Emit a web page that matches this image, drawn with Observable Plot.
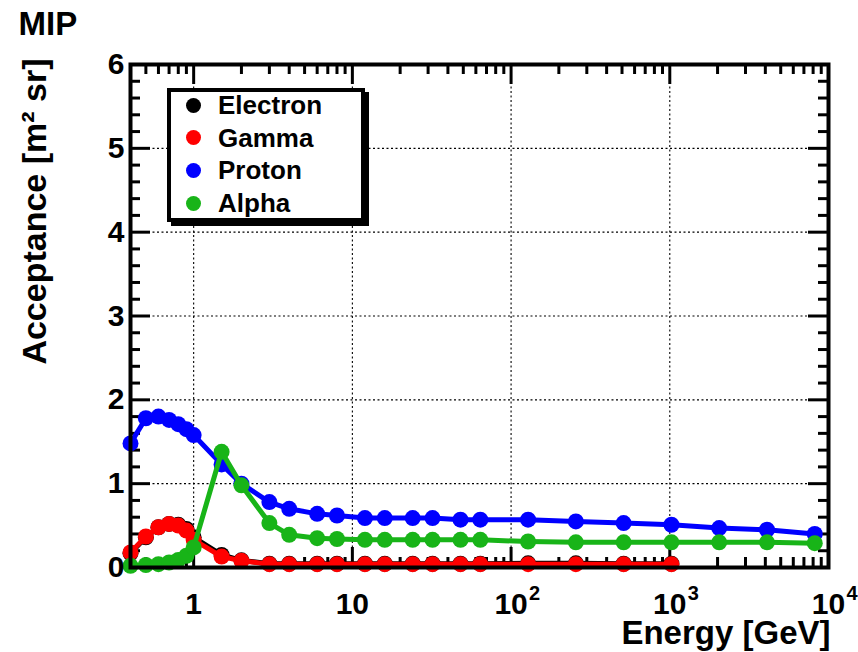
<!DOCTYPE html>
<html>
<head>
<meta charset="utf-8">
<script src="https://cdn.jsdelivr.net/npm/d3@7"></script>
<script src="https://cdn.jsdelivr.net/npm/@observablehq/plot@0.6"></script>
<style>
  html, body { margin: 0; padding: 0; background: #fff; }
  #chart { position: relative; width: 858px; height: 652px; font-family: "Liberation Sans", Arial, sans-serif; font-weight: bold; }
  #legend { position: absolute; left: 167px; top: 88px; width: 190px; height: 126px; border: 4px solid #000; background: #fff; box-shadow: 4px 4px 0 #000; }
  #legend .row { position: absolute; left: 0; width: 100%; height: 30px; font-size: 26px; line-height: 30px; }
  #legend .mk { position: absolute; left: 15px; top: 7.5px; width: 15px; height: 15px; border-radius: 50%; }
  #legend .lb { position: absolute; left: 47px; top: 0; white-space: nowrap; }
</style>
</head>
<body>
<div id="chart"></div>
<script>
// Energy grid [GeV] for the proton and alpha curves
const energyFull = [0.4, 0.5, 0.6, 0.7, 0.8, 0.9, 1.0, 1.5, 2, 3, 4, 6, 8, 12, 16, 24, 32, 48, 64, 128, 256, 512, 1024, 2048, 4096, 8192];
// Energy grid [GeV] for the electron and gamma curves (stops at 1 TeV)
const energyShort = [0.4, 0.5, 0.6, 0.7, 0.8, 0.9, 1.0, 1.5, 2, 3, 4, 6, 8, 12, 16, 24, 32, 48, 64, 128, 256, 512, 1024];

// Acceptance [m^2 sr]
const electron = [0.17, 0.36, 0.48, 0.52, 0.51, 0.46, 0.36, 0.15, 0.085, 0.045, 0.045, 0.045, 0.045, 0.045, 0.045, 0.045, 0.045, 0.045, 0.045, 0.05, 0.05, 0.045, 0.045];
const gamma    = [0.18, 0.37, 0.48, 0.52, 0.50, 0.44, 0.33, 0.13, 0.08, 0.04, 0.04, 0.04, 0.04, 0.04, 0.04, 0.04, 0.04, 0.04, 0.04, 0.04, 0.04, 0.04, 0.04];
const proton   = [1.48, 1.78, 1.80, 1.76, 1.71, 1.65, 1.58, 1.23, 1.00, 0.78, 0.70, 0.64, 0.62, 0.59, 0.59, 0.59, 0.59, 0.57, 0.57, 0.57, 0.55, 0.53, 0.51, 0.47, 0.45, 0.40];
const alpha    = [0.02, 0.03, 0.04, 0.06, 0.09, 0.14, 0.24, 1.38, 0.98, 0.53, 0.39, 0.35, 0.34, 0.33, 0.33, 0.33, 0.33, 0.33, 0.33, 0.31, 0.30, 0.30, 0.30, 0.30, 0.30, 0.29];

const seriesNames  = ["Electron", "Gamma", "Proton", "Alpha"];
const seriesColors = ["#000000", "#ff0000", "#0000ff", "#18b418"];

// Axis tick labels
const xTickValues = [1, 10, 100, 1000, 10000];
const xTickBase   = ["1", "10", "10", "10", "10"];
const xTickExp    = ["", "", "2", "3", "4"];
const yTickValues = [0, 1, 2, 3, 4, 5, 6];
const yTickLabels = ["0", "1", "2", "3", "4", "5", "6"];

const W = 858, H = 652;
const mL = 130, mR = 30, mT = 64, mB = 85;
const frameW = W - mL - mR, frameH = H - mT - mB;
const xDomain = [0.4, 1e4], yDomain = [0, 6];

// minor tick positions: log decades on x, steps of 0.2 on y
const xMinor = [];
for (let k = -1; k <= 3; k++) for (let m = 2; m <= 9; m++) {
  const v = m * Math.pow(10, k);
  if (v >= xDomain[0] && v <= xDomain[1]) xMinor.push(v);
}
const yMinor = d3.range(0, 6.0001, 0.2).filter(v => Math.abs(v - Math.round(v)) > 1e-6);
const xGrid = [1, 10, 100, 1000];
const yGrid = [1, 2, 3, 4, 5];

const seriesData = [
  energyShort.map((e, i) => ({e, v: electron[i]})),
  energyShort.map((e, i) => ({e, v: gamma[i]})),
  energyFull.map((e, i) => ({e, v: proton[i]})),
  energyFull.map((e, i) => ({e, v: alpha[i]}))
];

const majorLen = 20, minorLen = 10, tickW = 3;
const grid = {stroke: "#000", strokeWidth: 1.1, strokeDasharray: "2,2.5"};
const txt = {fontWeight: "bold", fill: "#000", lineAnchor: "middle"};

const seriesMarks = seriesData.flatMap((rows, i) => [
  Plot.line(rows, {x: "e", y: "v", stroke: seriesColors[i], strokeWidth: 5}),
  Plot.dot(rows, {x: "e", y: "v", r: 8, fill: seriesColors[i], stroke: "none"})
]);

const xLabelRows = xTickValues.map((v, i) => ({v, base: xTickBase[i], exp: xTickExp[i]}));

const chart = Plot.plot({
  width: W, height: H,
  marginLeft: mL, marginRight: mR, marginTop: mT, marginBottom: mB,
  x: {type: "log", domain: xDomain, axis: null},
  y: {domain: yDomain, axis: null},
  style: {fontFamily: "'Liberation Sans', Arial, sans-serif", fontWeight: "bold", background: "#fff", color: "#000"},
  marks: [
    // dotted grid
    Plot.ruleX(xGrid, {x: d => d, ...grid}),
    Plot.ruleY(yGrid, {y: d => d, ...grid}),
    // ticks on bottom and top
    Plot.ruleX(xGrid, {x: d => d, insetTop: frameH - majorLen, stroke: "#000", strokeWidth: tickW}),
    Plot.ruleX(xGrid, {x: d => d, insetBottom: frameH - majorLen, stroke: "#000", strokeWidth: tickW}),
    Plot.ruleX(xMinor, {x: d => d, insetTop: frameH - minorLen, stroke: "#000", strokeWidth: tickW}),
    Plot.ruleX(xMinor, {x: d => d, insetBottom: frameH - minorLen, stroke: "#000", strokeWidth: tickW}),
    // ticks on left and right
    Plot.ruleY(yTickValues, {y: d => d, insetRight: frameW - majorLen, stroke: "#000", strokeWidth: tickW}),
    Plot.ruleY(yTickValues, {y: d => d, insetLeft: frameW - majorLen, stroke: "#000", strokeWidth: tickW}),
    Plot.ruleY(yMinor, {y: d => d, insetRight: frameW - minorLen, stroke: "#000", strokeWidth: tickW}),
    Plot.ruleY(yMinor, {y: d => d, insetLeft: frameW - minorLen, stroke: "#000", strokeWidth: tickW}),
    // data
    ...seriesMarks,
    Plot.frame({stroke: "#000", strokeWidth: 4}),
    // tick labels
    Plot.text(xLabelRows, {x: "v", text: "base", frameAnchor: "bottom", dy: 37, fontSize: 30, ...txt}),
    Plot.text(xLabelRows, {x: "v", text: "exp", frameAnchor: "bottom", dx: 18, dy: 26, textAnchor: "start", fontSize: 20, ...txt}),
    Plot.text(yTickValues, {y: d => d, text: (d, i) => yTickLabels[i], frameAnchor: "left", dx: -6, textAnchor: "end", fontSize: 30, ...txt}),
    // axis titles and heading
    Plot.text(["Energy [GeV]"], {text: d => d, frameAnchor: "bottom-right", dx: 2, dy: 66, textAnchor: "end", fontSize: 33, ...txt}),
    Plot.text(["Acceptance [m² sr]"], {text: d => d, frameAnchor: "top-left", rotate: -90, dx: -95, dy: -6, textAnchor: "end", fontSize: 34, ...txt}),
    Plot.text(["MIP"], {text: d => d, frameAnchor: "top-left", dx: -112, dy: -40, textAnchor: "start", fontSize: 33, ...txt})
  ]
});

const host = document.getElementById("chart");
host.appendChild(chart);

// legend box inside the frame
const legend = document.createElement("div");
legend.id = "legend";
seriesNames.forEach((name, i) => {
  const row = document.createElement("div");
  row.className = "row";
  row.style.top = (-2 + i * 32.7) + "px";
  const mk = document.createElement("span");
  mk.className = "mk";
  mk.style.background = seriesColors[i];
  const lb = document.createElement("span");
  lb.className = "lb";
  lb.textContent = name;
  row.appendChild(mk);
  row.appendChild(lb);
  legend.appendChild(row);
});
host.appendChild(legend);
</script>
</body>
</html>
